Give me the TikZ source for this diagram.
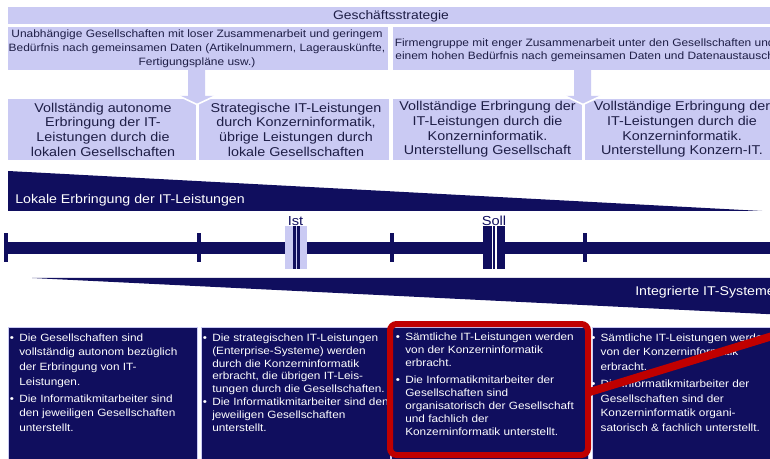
\documentclass[tikz,border=0pt]{standalone}
\usepackage{fontspec}
\setmainfont{Liberation Sans}[FakeStretch=1.12]
\definecolor{lav}{RGB}{202,202,243}
\definecolor{navy}{RGB}{16,14,94}
\definecolor{ink}{RGB}{30,30,70}
\definecolor{alarm}{RGB}{192,0,0}
\newcommand{\fsz}[2]{\fontsize{#1}{#2}\selectfont}
\newcommand{\bul}{\makebox[7pt][l]{\textbullet}}
\newcommand{\ind}{\hspace*{7pt}}
\begin{document}
\begin{tikzpicture}[x=0.75pt,y=-0.75pt,
  lavbox/.style={fill=lav},
  navbox/.style={fill=navy, draw=lav, line width=0.5pt},
  hint/.style={inner sep=0pt, text=ink, align=center},
  bigtxt/.style={hint, font=\fsz{9.6}{11}},
  smalltxt/.style={hint, font=\fsz{8}{10.5}},
  bullets/.style={inner sep=0pt, text=white, align=left, anchor=north west},
  wedge/.style={fill=navy},
  tick/.style={fill=navy},
  blockarrow/.style={fill=lav},
  chevron/.style={draw=white, line width=1.2pt, line join=miter},
  crossout/.style={draw=alarm, line width=6pt},
  highlight/.style={draw=alarm, line width=4.5pt, rounded corners=5pt},
]
\useasboundingbox (0,0) rectangle (770,459);
\clip (0,0) rectangle (770,459);

% strategy header
\path[lavbox] (8,7) rectangle (776,24);
\node[hint, font=\fsz{9.3}{11}] (title) at (391,16) {Geschäftsstrategie};

% two strategy variants
\path[lavbox] (8,27) rectangle (388,70);
\path[lavbox] (392.5,27) rectangle (776,70);
\node[smalltxt] (loose) at (197,48.5) {Unabhängige Gesellschaften mit loser Zusammenarbeit  und geringem\\Bedürfnis nach gemeinsamen Daten (Artikelnummern,  Lagerauskünfte,\\Fertigungspläne usw.)};
\node[smalltxt, font=\fsz{8}{9.8}, anchor=west] (tight) at (394.5,50.5) {Firmengruppe mit enger Zusammenarbeit  unter den Gesellschaften und\\einem hohen Bedürfnis nach gemeinsamen Daten und Datenaustausch};

% four organisational models
\path[lavbox] (8,99) rectangle (195.5,160);
\path[lavbox] (199,99) rectangle (388.5,160);
\path[lavbox] (392.5,99) rectangle (581.5,160);
\path[lavbox] (585,99) rectangle (776,160);
\node[bigtxt] (m1) at (103,129.5) {Vollständig autonome\\Erbringung der IT-\\Leistungen durch die\\lokalen Gesellschaften};
\node[bigtxt] (m2) at (296,129.5) {Strategische IT-Leistungen\\durch Konzerninformatik,\\übrige Leistungen durch\\lokale Gesellschaften};
\node[bigtxt] (m3) at (487.5,129.5) {Vollständige Erbringung der\\IT-Leistungen durch die\\Konzerninformatik.\\Unterstellung Gesellschaft};
\node[bigtxt] (m4) at (682,129.5) {Vollständige Erbringung der\\IT-Leistungen durch die\\Konzerninformatik.\\Unterstellung Konzern-IT.};

% block arrows from the strategies to the models
\path[blockarrow] (188,69) -- (205,69) -- (205,96) -- (214,96) -- (197,104) -- (180,96) -- (188,96) -- cycle;
\draw[chevron] (180,96.5) -- (197,104.5) -- (214,96.5);
\path[blockarrow] (574,69) -- (591,69) -- (591,96) -- (600,96) -- (583,104) -- (566,96) -- (574,96) -- cycle;
\draw[chevron] (566,96.5) -- (583,104.5) -- (600,96.5);

% local delivery wedge
\path[wedge] (8,171) -- (762,211) -- (8,211) -- cycle;
\node[inner sep=0pt, anchor=base west, text=white, font=\fsz{9.5}{11}] (local) at (15,204) {Lokale Erbringung der IT-Leistungen};

% scale bar with ticks
\path[wedge] (5,242) rectangle (776,254);
\foreach \t/\x in {t0/6, t1/199, t2/392, t3/585}
  \path[tick] (\x-2,233) rectangle (\x+2,262);

% current state marker
\path[lavbox] (285,226) rectangle (307,269);
\path[fill=navy] (293.2,226) rectangle (295.8,269);
\path[fill=navy] (297.4,226) rectangle (300,269);
\node[inner sep=0pt, anchor=base, text=navy, font=\fsz{9.8}{11}] (ist) at (295.5,225.5) {Ist};

% target state marker
\path[fill=navy] (483,226) rectangle (505,269);
\path[fill=white] (491.6,226) rectangle (493.4,269);
\path[fill=white] (495,226) rectangle (496.8,269);
\node[inner sep=0pt, anchor=base, text=navy, font=\fsz{9.8}{11}] (soll) at (494,225.5) {Soll};

% integrated systems wedge
\path[wedge] (32,278) -- (776,278) -- (776,314.5) -- cycle;
\node[inner sep=0pt, anchor=base west, text=white, font=\fsz{9.5}{11}] (integ) at (635,295.5) {Integrierte IT-Systeme};

% descriptions
\path[navbox] (8,327) rectangle (197,465);
\path[navbox] (201,327) rectangle (390,465);
\path[navbox] (391,327) rectangle (588,465);
\path[navbox] (592,327) rectangle (776,465);

\node[bullets, font=\fsz{7.9}{10.9}] (d1) at (9.7,333.5) {\bul Die Gesellschaften sind\\\ind vollständig autonom bezüglich\\\ind der Erbringung von IT-\\\ind Leistungen.\\[1.9pt]\bul Die Informatikmitarbeiter sind\\\ind den jeweiligen Gesellschaften\\\ind unterstellt.};
\node[bullets, font=\fsz{7.9}{9.6}] (d2) at (202.7,333.5) {\bul Die strategischen IT-Leistungen\\\ind (Enterprise-Systeme) werden\\\ind durch die Konzerninformatik\\\ind erbracht, die übrigen IT-Leis-\\\ind tungen durch die Gesellschaften.\\\bul Die Informatikmitarbeiter sind den\\\ind jeweiligen Gesellschaften\\\ind unterstellt.};
\node[bullets, font=\fsz{7.9}{10.9}] (d4) at (591,333.5) {\bul Sämtliche IT-Leistungen  werden\\\ind von der Konzerninformatik\\\ind erbracht.\\[2pt]\bul Die Informatikmitarbeiter der\\\ind Gesellschaften sind der\\\ind Konzerninformatik organi-\\\ind satorisch \& fachlich unterstellt.};
\node[bullets, font=\fsz{7.9}{9.75}] (d3) at (395.7,332.5) {\bul Sämtliche IT-Leistungen  werden\\\ind von der Konzerninformatik\\\ind erbracht.\\[3pt]\bul Die Informatikmitarbeiter der\\\ind Gesellschaften sind\\\ind organisatorisch der Gesellschaft\\\ind und fachlich der\\\ind Konzerninformatik unterstellt.};

% chosen model and crossed-out alternative
\draw[highlight] (390,324) rectangle (588,455);
\coordinate (crossA) at (588,392.5);
\coordinate (crossB) at (810,324.5);
\draw[crossout] (crossA) -- (crossB);
\end{tikzpicture}
\end{document}
